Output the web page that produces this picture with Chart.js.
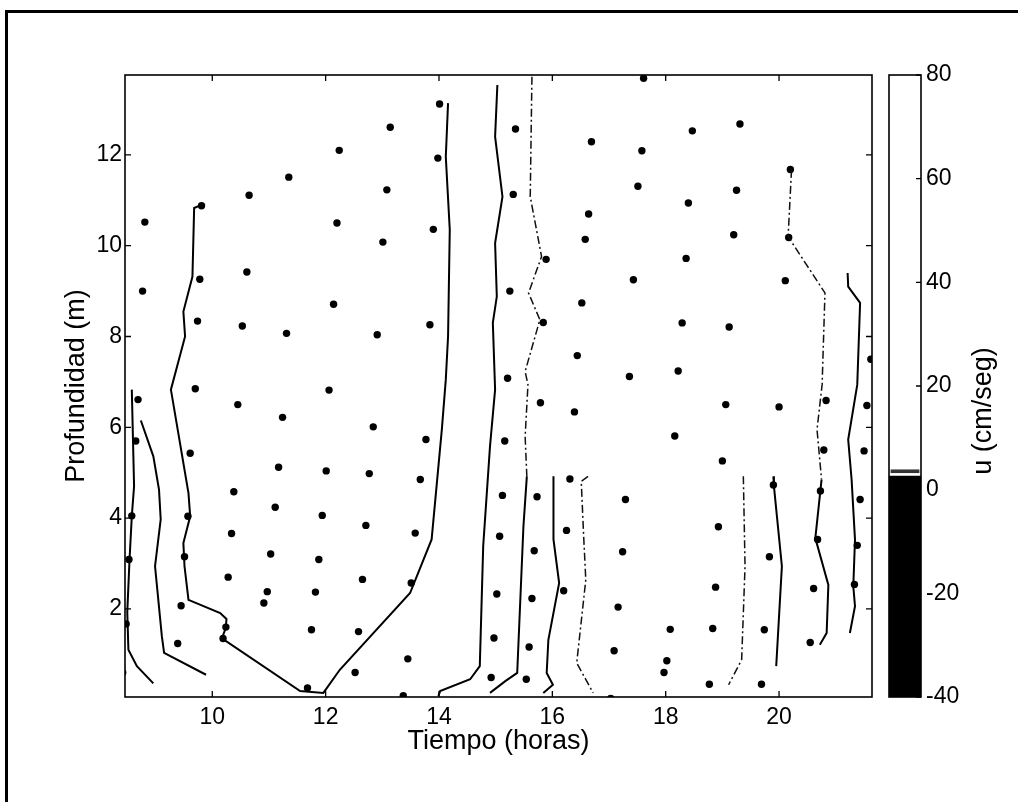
<!DOCTYPE html>
<html>
<head>
<meta charset="utf-8">
<script src="https://cdn.jsdelivr.net/npm/chart.js@4.4.1/dist/chart.umd.min.js"></script>
<style>
  html, body { margin: 0; padding: 0; background: #fff; }
  #wrap { position: relative; width: 1018px; height: 802px; overflow: hidden; background: #fff; }
  #main { position: absolute; left: 0; top: 0; }
  #bar { position: absolute; left: 880px; top: 0; }
  #frame { position: absolute; left: 5px; top: 10px; right: -10px; bottom: -10px;
           border-top: 3px solid #000; border-left: 3px solid #000; pointer-events: none; }
</style>
</head>
<body>
<div id="wrap">
  <canvas id="main" width="1018" height="802"></canvas>
  <canvas id="bar" width="138" height="802"></canvas>
  <div id="frame"></div>
</div>
<script>
const FONT = "'Liberation Sans', Arial, Helvetica, sans-serif";

// axis ticks
const xTicks = [10, 12, 14, 16, 18, 20];
const yTicks = [2, 4, 6, 8, 10, 12];
const barTicks = [-40, -20, 0, 20, 40, 60, 80];

// measurement points: time (h) and depth (m)
const dotTime = [14.01, 13.14, 15.35, 12.24, 13.98, 11.35, 13.08, 15.31, 10.65, 9.81,
  8.81, 12.20, 13.90, 13.01, 10.61, 9.78, 8.77, 15.25, 12.14, 9.74,
  10.53, 13.84, 11.31, 12.91, 15.21, 9.70, 12.06, 8.69, 10.45, 11.24,
  12.84, 13.77, 8.65, 15.16, 9.61, 11.17, 12.01, 12.77, 13.67, 15.12,
  10.38, 11.11, 11.94, 12.71, 9.57, 8.58, 13.58, 10.34, 15.07, 11.03,
  11.88, 9.51, 8.53, 10.28, 12.65, 13.51, 10.97, 11.82, 10.91, 9.45,
  15.02, 8.48, 10.24, 11.75, 12.58, 10.19, 9.39, 14.97, 13.45, 14.92,
  12.52, 8.42, 11.68, 13.37, 17.61, 19.31, 18.47, 16.69, 17.58, 20.20,
  17.51, 19.25, 18.40, 16.64, 19.20, 20.17, 16.58, 15.89, 18.36, 17.43,
  20.11, 16.52, 15.84, 18.29, 19.12, 16.44, 21.62, 17.36, 18.22, 15.79,
  16.39, 19.06, 20.00, 20.83, 21.55, 18.16, 19.00, 20.79, 21.50, 16.31,
  15.73, 17.29, 19.90, 20.73, 21.43, 18.93, 16.25, 15.68, 17.24, 19.83,
  20.68, 21.38, 18.88, 16.20, 15.64, 20.61, 21.33, 17.16, 18.08, 18.83,
  19.74, 15.59, 17.09, 20.55, 18.02, 17.97, 15.54, 18.77, 19.69, 17.03];
const dotDepth = [13.12, 12.61, 12.57, 12.10, 11.93, 11.51, 11.23, 11.13, 11.11, 10.88,
  10.52, 10.50, 10.36, 10.08, 9.42, 9.26, 9.00, 9.00, 8.71, 8.34,
  8.23, 8.26, 8.07, 8.04, 7.08, 6.85, 6.82, 6.61, 6.50, 6.22,
  6.01, 5.73, 5.70, 5.70, 5.43, 5.12, 5.04, 4.98, 4.85, 4.50,
  4.58, 4.24, 4.06, 3.84, 4.04, 4.05, 3.67, 3.66, 3.60, 3.21,
  3.09, 3.15, 3.09, 2.70, 2.65, 2.57, 2.38, 2.37, 2.13, 2.07,
  2.33, 1.67, 1.60, 1.54, 1.50, 1.35, 1.24, 1.36, 0.90, 0.49,
  0.60, 0.60, 0.26, 0.09, 13.69, 12.68, 12.53, 12.29, 12.09, 11.68,
  11.31, 11.22, 10.94, 10.70, 10.24, 10.18, 10.14, 9.70, 9.72, 9.25,
  9.23, 8.74, 8.31, 8.30, 8.21, 7.58, 7.50, 7.12, 7.24, 6.54,
  6.34, 6.50, 6.45, 6.59, 6.48, 5.81, 5.26, 5.50, 5.48, 4.86,
  4.47, 4.41, 4.73, 4.60, 4.41, 3.81, 3.73, 3.28, 3.26, 3.15,
  3.53, 3.40, 2.48, 2.40, 2.23, 2.45, 2.54, 2.04, 1.55, 1.57,
  1.54, 1.16, 1.08, 1.26, 0.86, 0.60, 0.45, 0.34, 0.34, 0.03];

// contour lines [time, depth]
const contourA = [[8.58, 6.83], [8.62, 4.70], [8.58, 4.04], [8.54, 3.09], [8.50, 1.93], [8.52, 1.10], [8.67, 0.74], [8.96, 0.36]];
const contourB = [[8.74, 6.15], [8.96, 5.36], [9.06, 4.63], [9.09, 3.97], [8.99, 2.94], [9.11, 1.40], [9.15, 1.03], [9.89, 0.55]];
const contourC = [[9.81, 10.90], [9.68, 10.83], [9.65, 9.32], [9.49, 8.55], [9.52, 8.00], [9.27, 6.83], [9.58, 4.55], [9.61, 4.04],
  [9.49, 3.45], [9.51, 2.94], [9.58, 2.20], [10.14, 1.91], [10.25, 1.78], [10.24, 1.59], [10.17, 1.35], [11.55, 0.19],
  [11.96, 0.15], [12.25, 0.66], [13.49, 2.35], [13.87, 3.53], [14.05, 5.95], [14.12, 7.05], [14.16, 8.00], [14.19, 10.35],
  [14.12, 11.96], [14.16, 13.14]];
const contourD = [[15.03, 13.54], [14.99, 12.40], [15.12, 11.08], [14.99, 10.06], [15.02, 8.88], [14.95, 8.30], [14.99, 6.83],
  [14.90, 5.58], [14.78, 3.38], [14.72, 0.74], [14.55, 0.45], [14.02, 0.19], [13.99, 0.08]];
const contourE1 = [[15.64, 13.72], [15.61, 11.08], [15.81, 9.76], [15.58, 8.96], [15.78, 8.37], [15.52, 7.23], [15.57, 6.94], [15.52, 5.80], [15.55, 4.92]];
const contourE2 = [[15.55, 4.92], [15.49, 3.82], [15.38, 0.59], [15.17, 0.41], [14.90, 0.15]];
const contourF = [[16.02, 4.92], [16.02, 3.53], [16.12, 2.57], [15.93, 1.32], [15.90, 0.59], [16.01, 0.33], [15.84, 0.15]];
const contourG = [[16.63, 4.92], [16.51, 4.81], [16.55, 3.67], [16.59, 2.64], [16.43, 0.81], [16.72, 0.15]];
const contourH = [[19.37, 4.92], [19.40, 2.94], [19.34, 0.88], [19.11, 0.33]];
const contourI = [[19.90, 4.92], [19.91, 4.70], [20.05, 2.94], [19.95, 0.74]];
const contourJ1 = [[20.22, 11.67], [20.16, 10.20], [20.81, 8.96], [20.76, 6.94], [20.67, 5.95], [20.75, 4.85]];
const contourJ2 = [[20.75, 4.85], [20.64, 3.56], [20.87, 2.53], [20.84, 1.47], [20.72, 1.21]];
const contourK = [[21.21, 9.40], [21.22, 9.10], [21.43, 8.74], [21.38, 6.94], [21.22, 5.73], [21.28, 4.85], [21.34, 3.53],
  [21.31, 2.50], [21.34, 2.06], [21.25, 1.47]];

const solidLines = [contourA, contourB, contourC, contourD, contourE2, contourF, contourI, contourJ2, contourK];
const dashLines = [contourE1, contourG, contourH, contourJ1];

// colour bar: filled band and the thin level mark
const barFilled = [-40, 2.6];
const barLevel = [3.2, 3.9];

const toXY = pts => pts.map(p => ({ x: p[0], y: p[1] }));

const datasets = [];
solidLines.forEach(l => datasets.push({
  type: 'line', data: toXY(l), borderColor: '#000', borderWidth: 2, pointRadius: 0, fill: false, tension: 0
}));
dashLines.forEach(l => datasets.push({
  type: 'line', data: toXY(l), borderColor: '#111', borderWidth: 1.5, borderDash: [8, 3, 2, 3], pointRadius: 0, fill: false, tension: 0
}));
datasets.push({
  data: dotTime.map((t, i) => ({ x: t, y: dotDepth[i] })),
  backgroundColor: '#000', borderColor: '#000', pointRadius: 3.7, borderWidth: 0
});

const boxMain = {
  id: 'boxMain',
  afterDatasetsDraw(chart) {
    const { ctx, chartArea: a, scales: { x, y } } = chart;
    ctx.save();
    ctx.strokeStyle = '#000';
    ctx.lineWidth = 1.6;
    ctx.strokeRect(a.left, a.top, a.right - a.left, a.bottom - a.top);
    ctx.lineWidth = 1.3;
    ctx.beginPath();
    xTicks.forEach(v => {
      const px = x.getPixelForValue(v);
      ctx.moveTo(px, a.bottom); ctx.lineTo(px, a.bottom - 6);
      ctx.moveTo(px, a.top); ctx.lineTo(px, a.top + 6);
    });
    yTicks.forEach(v => {
      const py = y.getPixelForValue(v);
      ctx.moveTo(a.left, py); ctx.lineTo(a.left + 6, py);
      ctx.moveTo(a.right, py); ctx.lineTo(a.right - 6, py);
    });
    ctx.stroke();
    ctx.restore();
  }
};

new Chart(document.getElementById('main'), {
  type: 'scatter',
  data: { datasets: datasets },
  options: {
    responsive: false,
    animation: false,
    layout: { padding: { left: 0, top: 75, right: 146, bottom: 0 } },
    plugins: { legend: { display: false }, tooltip: { enabled: false } },
    scales: {
      x: {
        type: 'linear', min: 8.46, max: 21.64,
        afterBuildTicks: s => { s.ticks = xTicks.map(v => ({ value: v })); },
        afterFit: s => { s.height = 105; },
        grid: { display: false, drawTicks: false },
        border: { display: false },
        ticks: { color: '#000', padding: 7, font: { family: FONT, size: 23, lineHeight: 1.2 } },
        title: { display: true, text: 'Tiempo (horas)', color: '#000', padding: { top: 0, bottom: 47 },
                 font: { family: FONT, size: 27, lineHeight: 1 } }
      },
      y: {
        type: 'linear', min: 0.06, max: 13.76,
        afterBuildTicks: s => { s.ticks = yTicks.map(v => ({ value: v })); },
        afterFit: s => { s.width = 125; },
        grid: { display: false, drawTicks: false },
        border: { display: false },
        ticks: { color: '#000', padding: 3, font: { family: FONT, size: 23, lineHeight: 1.2 } },
        title: { display: true, text: 'Profundidad (m)', color: '#000', padding: { top: 63.5, bottom: 0 },
                 font: { family: FONT, size: 27, lineHeight: 1 } }
      }
    }
  },
  plugins: [boxMain]
});

const boxBar = {
  id: 'boxBar',
  afterDatasetsDraw(chart) {
    const { ctx, chartArea: a, scales: { y } } = chart;
    ctx.save();
    ctx.strokeStyle = '#000';
    ctx.lineWidth = 1.6;
    ctx.strokeRect(a.left, a.top, a.right - a.left, a.bottom - a.top);
    ctx.lineWidth = 1.3;
    ctx.beginPath();
    barTicks.forEach(v => {
      const py = y.getPixelForValue(v);
      ctx.moveTo(a.right, py); ctx.lineTo(a.right - 5, py);
    });
    ctx.stroke();
    ctx.fillStyle = '#000';
    ctx.font = "27px " + FONT;
    ctx.textAlign = 'center';
    ctx.textBaseline = 'middle';
    ctx.translate(104, 411);
    ctx.rotate(-Math.PI / 2);
    ctx.fillText('u (cm/seg)', 0, 0);
    ctx.restore();
  }
};

new Chart(document.getElementById('bar'), {
  type: 'bar',
  data: {
    labels: ['u'],
    datasets: [
      { data: [barFilled], backgroundColor: '#000', grouped: false, barPercentage: 1, categoryPercentage: 1 },
      { data: [barLevel], backgroundColor: '#333', grouped: false, barPercentage: 0.9, categoryPercentage: 1 }
    ]
  },
  options: {
    responsive: false,
    animation: false,
    layout: { padding: { left: 9, top: 75, right: 0, bottom: 105 } },
    plugins: { legend: { display: false }, tooltip: { enabled: false } },
    scales: {
      x: { display: false },
      y: {
        position: 'right', min: -40, max: 80,
        afterBuildTicks: s => { s.ticks = barTicks.map(v => ({ value: v })); },
        afterFit: s => { s.width = 97; },
        grid: { display: false, drawTicks: false },
        border: { display: false },
        ticks: { color: '#000', padding: 5, font: { family: FONT, size: 23, lineHeight: 1.2 } }
      }
    }
  },
  plugins: [boxBar]
});
</script>
</body>
</html>
